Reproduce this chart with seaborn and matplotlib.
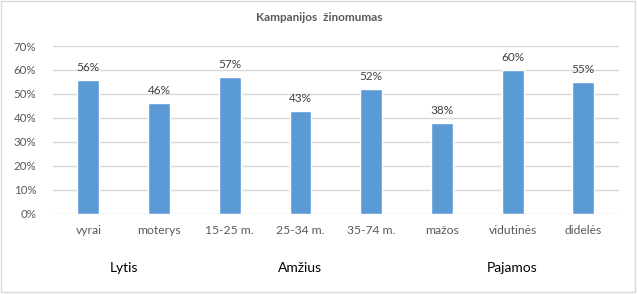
import matplotlib
matplotlib.use("Agg")
import matplotlib.pyplot as plt
import matplotlib.transforms as mtransforms
from matplotlib.patches import Rectangle
import seaborn as sns
import pandas as pd

categories = ["vyrai", "moterys", "15-25 m.", "25-34 m.", "35-74 m.", "mažos", "vidutinės", "didelės"]
values = [56, 46, 57, 43, 52, 38, 60, 55]
groups = ["Lytis", "Amžius", "Pajamos"]
group_members = [[0, 1], [2, 3, 4], [5, 6, 7]]
yticks = [0, 10, 20, 30, 40, 50, 60, 70]
title = "Kampanijos  žinomumas"

sns.set_theme(style="white")
plt.rcParams["font.family"] = ["Lato", "DejaVu Sans"]

fig = plt.figure(figsize=(6.38, 2.94), dpi=100)
ax = fig.add_axes([0.0831, 0.2738, 0.9697 - 0.0831, 0.8435 - 0.2738])

df = pd.DataFrame({"cat": categories, "val": values})
sns.barplot(data=df, x="cat", y="val", color="#5B9BD5", width=0.31, ax=ax,
            saturation=1, order=categories)

ax.set_ylim(0, 70)
ax.set_xlim(-0.5, len(categories) - 0.5)
ax.set_yticks(yticks)
ax.set_yticklabels([f"{t}%" for t in yticks])
ax.set_xlabel("")
ax.set_ylabel("")
ax.grid(axis="y", color="#D9D9D9", linewidth=1)
ax.set_axisbelow(True)
for s in ax.spines.values():
    s.set_visible(False)
ax.tick_params(axis="y", length=0, pad=12, labelsize=8.3, labelcolor="#595959")
ax.tick_params(axis="x", length=0, pad=8, labelsize=8.7, labelcolor="#595959")

for i, v in enumerate(values):
    ax.annotate(f"{v}%", (i, v), xytext=(0, 5), textcoords="offset points",
                ha="center", va="bottom", fontsize=8.5, color="#404040")

trans = mtransforms.blended_transform_factory(ax.transData, fig.transFigure)
for g, members in zip(groups, group_members):
    cx = sum(members) / len(members)
    ax.text(cx, 0.088, g, transform=trans, ha="center", va="center",
            fontsize=10, color="#000000")

fig.text(0.5, 0.939, title, ha="center", va="center", fontsize=8.5,
         fontweight="bold", color="#595959")

fig.patches.append(Rectangle((0.002, 0.008), 0.994, 0.988, transform=fig.transFigure,
                             fill=False, edgecolor="#D9D9D9", linewidth=1))

fig.savefig("out.png", dpi=100)
